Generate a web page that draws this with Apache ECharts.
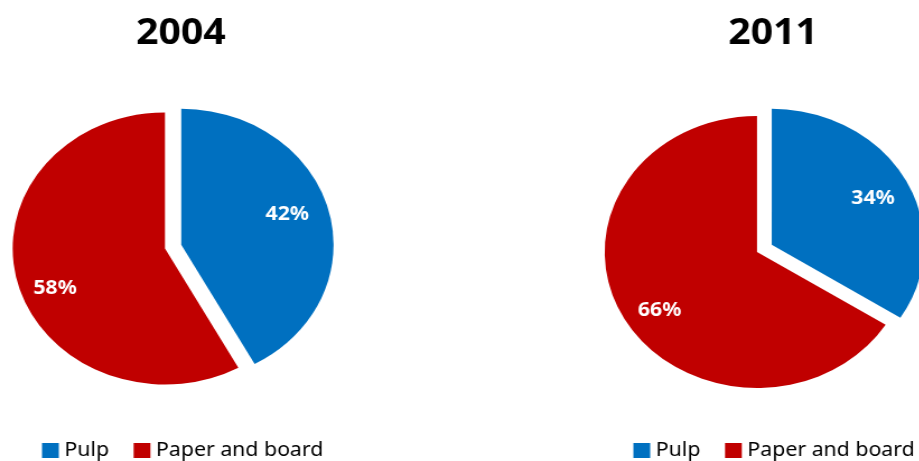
<!DOCTYPE html>
<html>
<head>
<meta charset="utf-8">
<title>Pulp and paper exports 2004 / 2011</title>
<script src="https://cdn.jsdelivr.net/npm/echarts@6/dist/echarts.min.js"></script>
<style>
  html, body { margin: 0; padding: 0; background: #fff; overflow: hidden; }
  /* the drawing is laid out at 821px and stretched horizontally to the page width */
  #chart { width: 821px; height: 461px; transform: scaleX(1.12); transform-origin: 0 0; }
</style>
</head>
<body>
<div id="chart"></div>
<script>
// Shares of pulp vs. paper and board, per year (percent)
const years = ['2004', '2011'];
const categories = ['Pulp', 'Paper and board'];
const share2004 = [42, 58];
const share2011 = [34, 66];

const colors = ['#0070C0', '#C00000'];
const FONT = '"Noto Sans", "Open Sans", sans-serif';

// panel geometry in unscaled px; labelNudge = small [dx, dy] shifts of each slice label
const panels = [
  { year: years[0], values: share2004, cx: 147.3, cy: 248.5, titleX: 161.6, legendLeft: 37.5,
    labelNudge: [[-7, -4], [3.5, 14]] },
  { year: years[1], values: share2011, cx: 675.9, cy: 252,   titleX: 690.2, legendLeft: 565.5,
    labelNudge: [[-1.5, 4], [5, 8]] }
];
const R = 136;
const OFFSET = 15;

function pieData(values) {
  return categories.map((name, i) => ({
    name,
    value: values[i],
    selected: i === 0,
    itemStyle: { color: colors[i] }
  }));
}

const series = [];
// filled slices
panels.forEach(p => {
  series.push({
    type: 'pie',
    center: [p.cx, p.cy],
    radius: [0, R],
    startAngle: 90,
    clockwise: true,
    selectedMode: 'single',
    selectedOffset: OFFSET,
    silent: true,
    animation: false,
    label: { show: false },
    labelLine: { show: false },
    emphasis: { disabled: true },
    data: pieData(p.values)
  });
});
// percentage labels, placed three quarters of the way out
panels.forEach(p => {
  series.push({
    type: 'pie',
    center: [p.cx, p.cy],
    radius: [R * 0.5, R],
    startAngle: 90,
    clockwise: true,
    selectedMode: 'single',
    selectedOffset: OFFSET,
    silent: true,
    animation: false,
    itemStyle: { color: 'rgba(0,0,0,0)' },
    label: {
      show: true,
      position: 'inside',
      formatter: '{c}%',
      color: '#fff',
      fontFamily: FONT,
      fontWeight: 'bold',
      fontSize: 19
    },
    labelLayout: params => {
      const n = p.labelNudge[params.dataIndex];
      return { dx: n[0], dy: n[1] };
    },
    labelLine: { show: false },
    emphasis: { disabled: true },
    data: categories.map((name, i) => ({
      name, value: p.values[i], selected: i === 0,
      itemStyle: { color: 'rgba(0,0,0,0)' }
    }))
  });
});

const legends = panels.map(p => ({
  left: p.legendLeft,
  top: 441,
  orient: 'horizontal',
  padding: 0,
  icon: 'rect',
  itemWidth: 15,
  itemHeight: 15,
  itemGap: 22,
  selectedMode: false,
  textStyle: { fontFamily: FONT, fontSize: 19, color: '#000' },
  data: categories.map((name, i) => ({ name, itemStyle: { color: colors[i] } }))
}));

const titles = panels.map(p => ({
  type: 'text',
  x: p.titleX,
  y: 34,
  style: {
    text: p.year,
    font: 'bold 35px ' + FONT,
    fill: '#000',
    align: 'center',
    verticalAlign: 'middle',
    textAlign: 'center',
    textVerticalAlign: 'middle'
  }
}));

const chart = echarts.init(document.getElementById('chart'), null, { renderer: 'canvas' });
chart.setOption({
  backgroundColor: '#fff',
  animation: false,
  legend: legends,
  graphic: titles,
  series
});
</script>
</body>
</html>
